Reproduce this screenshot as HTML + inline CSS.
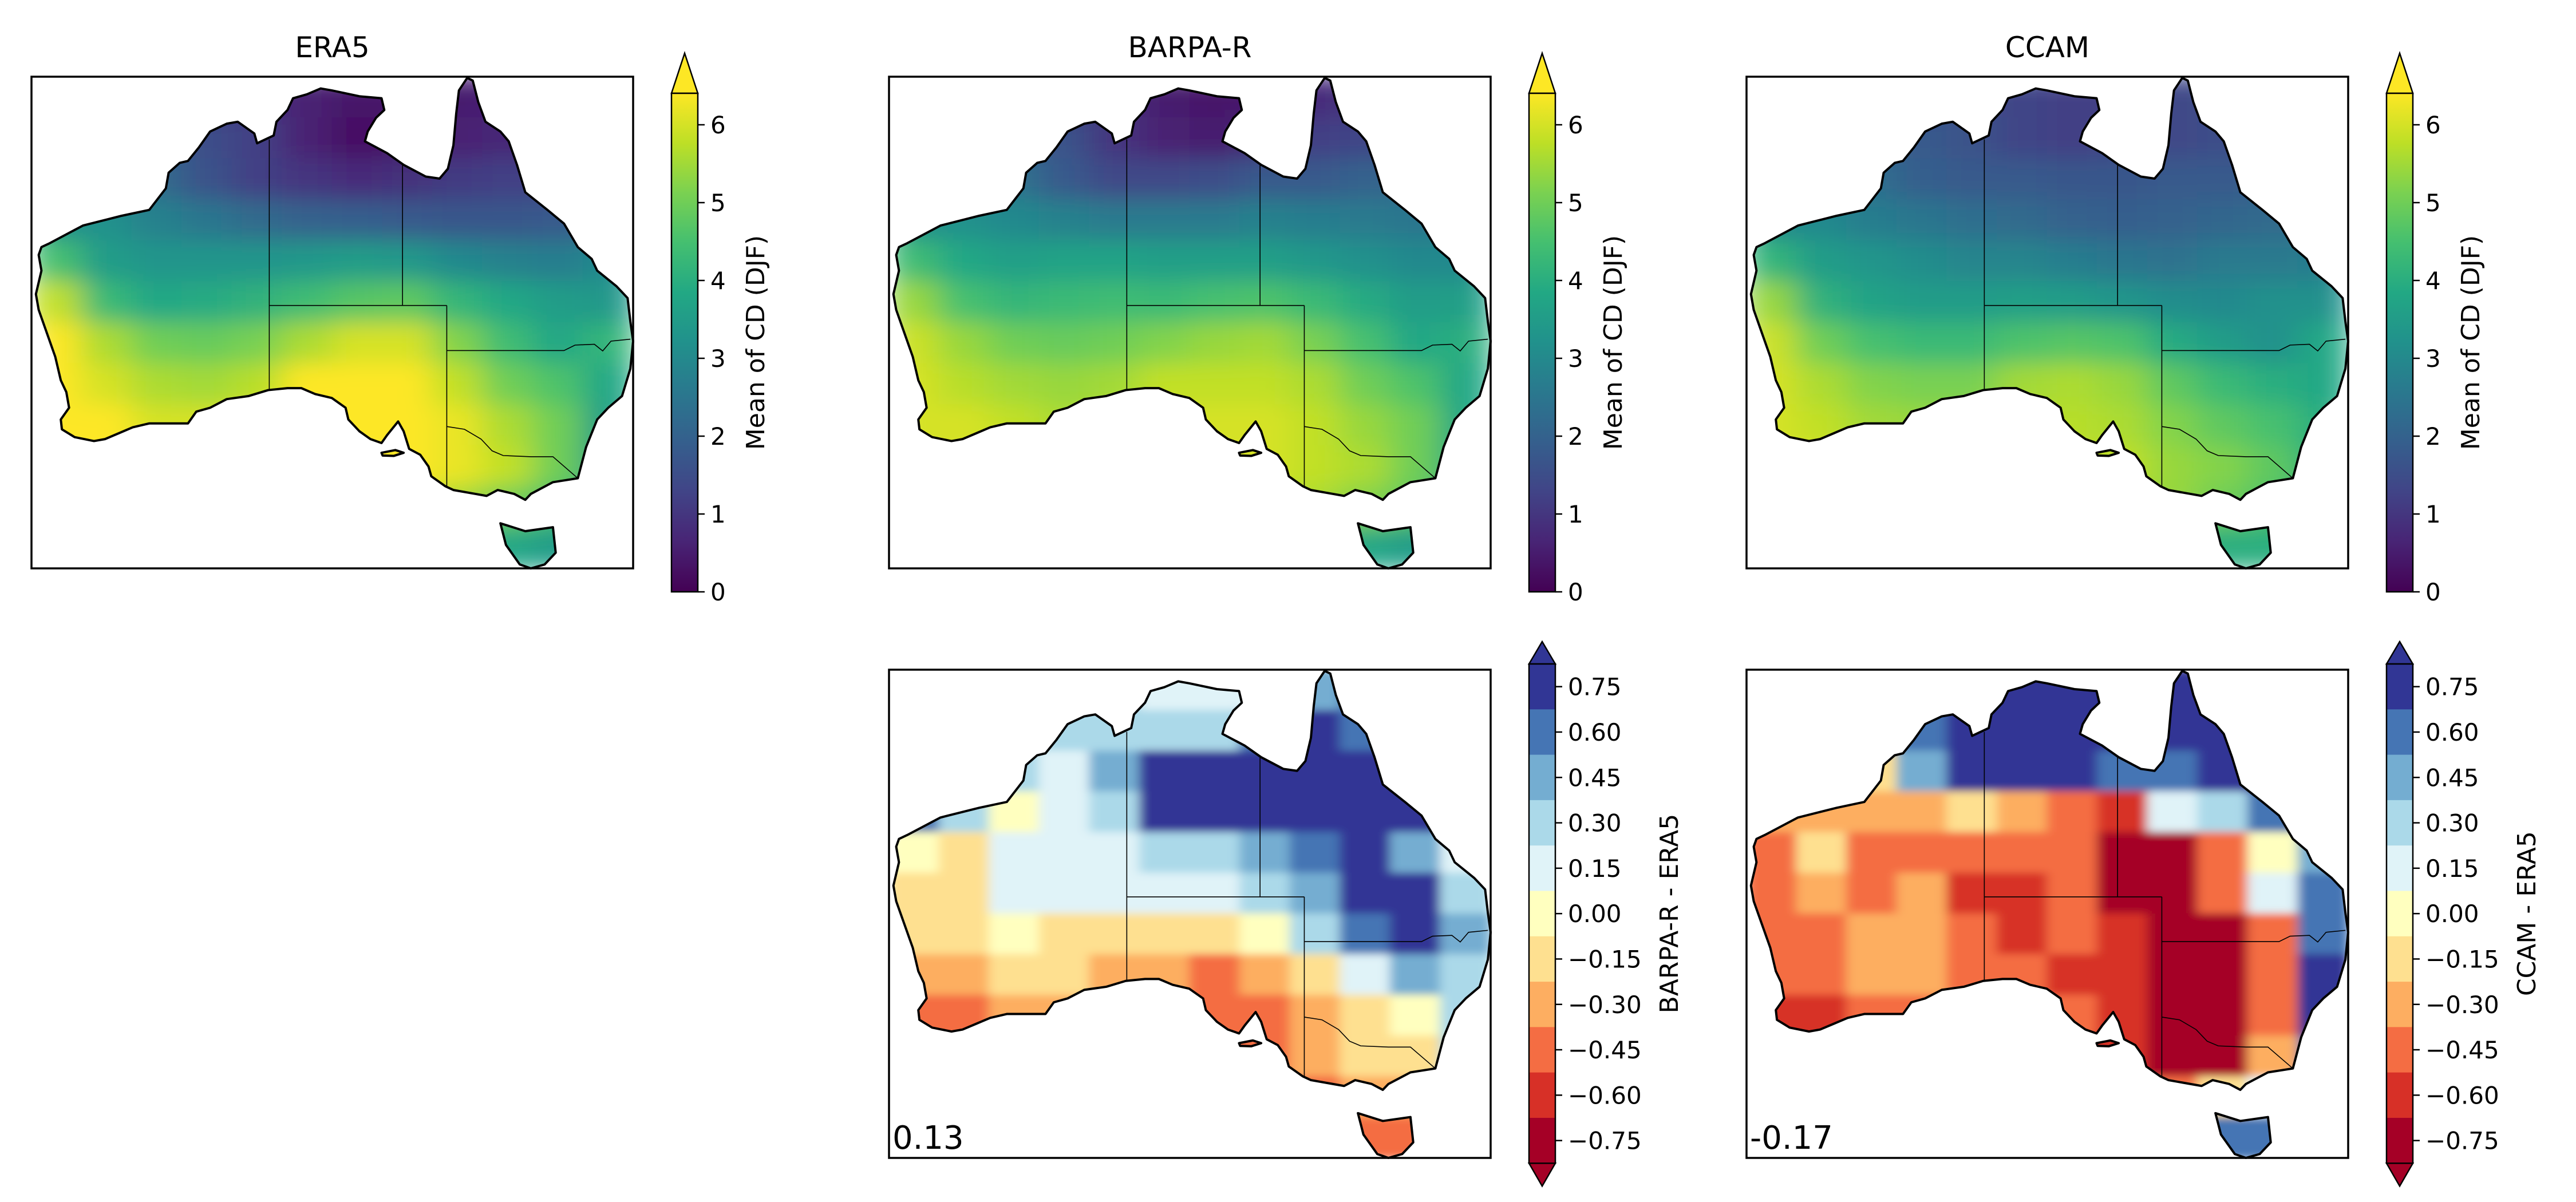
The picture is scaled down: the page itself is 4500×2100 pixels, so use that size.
<!DOCTYPE html>
<html><head><meta charset="utf-8">
<style>
html,body{margin:0;padding:0;background:#fff;}
svg{display:block;font-family:"DejaVu Sans","Liberation Sans",sans-serif;}
</style></head>
<body>
<svg id="fig" width="4500" height="2100" viewBox="0 0 4500 2100" xmlns="http://www.w3.org/2000/svg">
<defs>
<linearGradient id="viridis" x1="0" y1="1" x2="0" y2="0">
<stop offset="0" stop-color="#440154"/><stop offset="0.1" stop-color="#482475"/><stop offset="0.2" stop-color="#414487"/><stop offset="0.3" stop-color="#355f8d"/><stop offset="0.4" stop-color="#2a788e"/><stop offset="0.5" stop-color="#21918c"/><stop offset="0.6" stop-color="#22a884"/><stop offset="0.7" stop-color="#44bf70"/><stop offset="0.8" stop-color="#7ad151"/><stop offset="0.9" stop-color="#bddf26"/><stop offset="1" stop-color="#fde725"/>
</linearGradient>
<filter id="smooth" x="0" y="0" width="1" height="1"><feGaussianBlur stdDeviation="28"/></filter>
<filter id="soft" x="0" y="0" width="1" height="1"><feGaussianBlur stdDeviation="10"/></filter>
</defs>
</svg>
<script>
// ---- data grids (12 rows north->south, 12 cols west->east) ----
const era5Grid = [
[1,1,1,1,1,0.6,0.4,0.4,0.5,0.6,0.8,1],
[2,2,2,1.5,1.2,0.6,0.3,0.4,0.6,0.7,0.9,1.2],
[2.5,2.5,2.2,1.6,1.2,1.0,0.8,0.9,1.1,1.2,1.2,1.4],
[3.2,3.2,2.8,2.5,2.2,2.0,1.9,1.8,1.7,1.7,1.8,2.1],
[4.5,3.5,3.3,3.3,3.3,3.4,3.5,3.4,3.0,2.8,2.7,3.0],
[5.8,4.3,3.8,3.9,4.1,4.4,4.7,4.8,4.2,3.8,3.5,3.4],
[6.4,5.6,5.0,4.9,5.1,5.6,6.0,6.0,5.2,4.4,3.8,4.2],
[6.5,6.0,5.6,5.5,5.7,6.5,6.5,6.5,5.8,5.0,4.6,3.8],
[6.5,6.4,6.0,6.0,6.1,6.6,6.6,6.6,6.2,5.6,5.0,3.6],
[6.5,6.5,6.4,6.3,6.3,6.6,6.6,6.6,6.2,5.8,5.0,3.5],
[6.5,6.5,6.5,6.4,6.4,6.6,6.6,6.2,5.5,5.0,4.5,4.0],
[4,4,4,4,4,4,4,4,4,3.8,3.5,3.5]];
const barpaGrid = [
[1,1,1,1,1,0.5,0.4,0.5,0.8,1,1.2,1.3],
[2,2,2,1.6,1.0,0.6,0.5,0.8,1.2,1.3,1.4,1.5],
[2.6,2.6,2.4,1.8,1.4,1.4,1.5,1.8,1.8,2,2.2,2.2],
[3.2,3.2,3,2.8,2.6,2.6,2.6,2.8,2.7,2.6,2.5,2.6],
[4.4,3.8,3.6,3.7,3.7,3.6,3.6,3.6,3.4,3.2,3.0,3.0],
[5.4,4.5,4.2,4.3,4.4,4.3,4.5,4.6,4.3,3.9,3.5,3.6],
[5.9,5.4,5.0,4.9,5.0,5.2,5.4,5.5,5.1,4.5,3.8,4.0],
[6.0,5.7,5.5,5.4,5.5,5.8,5.8,5.8,5.6,5.0,4.6,3.8],
[6.0,6.0,5.8,5.6,5.7,6.0,6.0,6.0,5.8,5.4,5.0,3.8],
[6.0,6.0,6.0,5.8,5.8,6.0,6.0,6.0,5.8,5.6,5.0,3.8],
[6,6,6,6,6,6,6,5.8,5.6,5.2,4.8,4],
[4,4,4,4,4,4,4,4,4,3.8,3.5,3.5]];
const ccamGrid = [
[1.5,1.5,1.5,1.5,1.5,1.3,1.2,1.2,1.4,1.5,1.5,1.5],
[2,2,2,1.8,1.6,1.3,1.2,1.3,1.4,1.5,1.6,1.6],
[2.5,2.5,2.3,1.9,1.8,1.8,1.7,1.7,1.8,1.8,1.9,2],
[3,3,2.7,2.5,2.3,2.2,2.0,1.9,2.0,2.1,2.2,2.3],
[4.2,3.5,3.3,3.1,2.9,2.9,2.7,2.5,2.4,2.6,2.6,2.7],
[5.4,4.1,3.7,3.5,3.5,3.6,3.5,3.3,3.1,3.0,3.2,3.2],
[5.9,5.0,4.5,4.3,4.3,4.6,4.7,4.6,3.9,3.5,3.2,3.8],
[6.0,5.6,5.2,5.1,5.1,5.5,5.6,5.4,4.8,4.3,4.0,3.8],
[6.0,5.8,5.5,5.4,5.4,5.7,5.7,5.6,5.2,4.8,4.5,4.0],
[6.0,6.0,5.8,5.6,5.6,5.8,5.8,5.8,5.4,5.2,4.8,4.0],
[6,6,6,5.8,5.8,5.9,5.9,5.6,5.4,5.0,4.6,4.2],
[4,4,4,4,4,4,4,4,4,4,4,4]];
const barpaDiffGrid = [
[0,0,0,0,0.3,0.15,0.15,0.15,0.5,0.6,0.8,0.8],
[0,0,0,0.3,0.3,0.3,0.3,0.6,0.9,0.6,0.8,0.8],
[0.3,0.3,0.3,0.1,0.5,0.9,0.9,0.8,0.9,0.9,0.8,0.6],
[0.6,0.3,0.0,0.1,0.3,0.7,0.7,0.7,0.8,0.9,0.8,0.5],
[0,-0.1,0.1,0.15,0.2,0.3,0.3,0.4,0.6,0.7,0.5,0.2],
[-0.1,-0.1,0.1,0.2,0.15,0.2,0.15,0.3,0.5,0.7,0.8,0.3],
[-0.2,-0.1,0.0,-0.1,-0.1,-0.1,-0.15,0.0,0.3,0.6,0.8,0.5],
[-0.35,-0.25,-0.2,-0.2,-0.3,-0.35,-0.4,-0.3,-0.1,0.2,0.4,0.3],
[-0.5,-0.45,-0.35,-0.3,-0.3,-0.5,-0.5,-0.4,-0.3,-0.1,0.0,0.3],
[-0.55,-0.5,-0.4,-0.4,-0.35,-0.5,-0.5,-0.45,-0.3,-0.2,-0.1,0.3],
[-0.4,-0.4,-0.4,-0.4,-0.4,-0.4,-0.5,-0.55,-0.4,-0.3,-0.3,0.0],
[0,0,0,0,0,0,0,0,0,-0.4,-0.45,-0.4]];
const ccamDiffGrid = [
[0.8,0.8,0.8,0.8,0.8,0.9,0.9,0.9,0.9,0.9,0.9,0.9],
[0.8,0.8,0.8,0.6,0.9,0.9,0.9,0.9,0.9,0.9,0.9,0.9],
[-0.2,-0.2,-0.1,0.5,0.8,0.7,0.7,0.6,0.6,0.9,0.9,0.9],
[-0.3,-0.3,-0.3,-0.3,-0.2,-0.3,-0.5,-0.6,0.2,0.3,0.6,0.9],
[-0.4,-0.2,-0.4,-0.5,-0.5,-0.4,-0.5,-0.7,-0.8,-0.5,0.0,0.5],
[-0.4,-0.3,-0.4,-0.3,-0.6,-0.6,-0.5,-0.8,-0.8,-0.5,0.2,0.6],
[-0.5,-0.4,-0.3,-0.3,-0.4,-0.6,-0.5,-0.6,-0.8,-0.8,-0.4,0.6],
[-0.5,-0.4,-0.3,-0.3,-0.4,-0.5,-0.6,-0.6,-0.8,-0.8,-0.5,0.8],
[-0.6,-0.6,-0.4,-0.4,-0.4,-0.5,-0.5,-0.6,-0.7,-0.8,-0.4,0.8],
[-0.6,-0.6,-0.5,-0.4,-0.4,-0.5,-0.6,-0.6,-0.7,-0.8,-0.3,0.6],
[-0.5,-0.5,-0.5,-0.5,-0.5,-0.5,-0.6,-0.6,-0.5,-0.2,0.2,0.5],
[0.5,0.5,0.5,0.5,0.5,0.5,0.5,0.5,0.5,0.6,0.6,0.6]];
const meanTicks = [0,1,2,3,4,5,6];
const diffTicks = [0.75,0.60,0.45,0.30,0.15,0.00,-0.15,-0.30,-0.45,-0.60,-0.75];
const diffColors = ["#313695","#4575b4","#74add1","#abd9e9","#e0f3f8","#ffffbf","#fee090","#fdae61","#f46d43","#d73027","#a50026"];
const titles = ["ERA5","BARPA-R","CCAM"];
const corrLabels = ["0.13","-0.17"];

const NS="http://www.w3.org/2000/svg";
const svg=document.getElementById('fig');
function el(tag,attrs,parent){const e=document.createElementNS(NS,tag);for(const k in attrs)e.setAttribute(k,attrs[k]);(parent||svg).appendChild(e);return e;}

const vir=["#440154","#482475","#414487","#355f8d","#2a788e","#21918c","#22a884","#44bf70","#7ad151","#bddf26","#fde725"];
function hex(h){return [1,3,5].map(i=>parseInt(h.substr(i,2),16));}
function viridis(v){let t=Math.max(0,Math.min(1,v/6.4))*10;const i=Math.min(9,Math.floor(t)),f=t-i;const a=hex(vir[i]),b=hex(vir[i+1]);return 'rgb('+a.map((c,k)=>Math.round(c+(b[k]-c)*f)).join(',')+')';}
function diverg(v){let i=Math.floor((0.825-v)/0.15);i=Math.max(0,Math.min(10,i));return diffColors[i];}

const ZX0=57,ZY0=205,ZW=1088,ZH=1255;
const mainland=[[75,640],[90,630],[150,585],[220,560],[270,545],[300,490],[305,450],[325,425],[340,420],[360,385],[380,345],[410,325],[430,320],[460,350],[465,375],[495,355],[500,320],[520,290],[530,260],[555,250],[580,235],[600,240],[650,255],[690,260],[695,290],[680,310],[665,345],[660,370],[700,400],[730,430],[770,460],[795,465],[810,440],[820,380],[825,300],[830,240],[845,208],[855,215],[865,270],[878,320],[905,345],[920,370],[935,430],[950,500],[990,545],[1020,580],[1045,640],[1070,670],[1080,700],[1115,740],[1135,770],[1140,830],[1145,880],[1140,950],[1125,1020],[1100,1050],[1080,1080],[1060,1150],[1045,1230],[1000,1240],[960,1270],[950,1285],[930,1270],[900,1260],[880,1275],[860,1270],[820,1260],[805,1250],[780,1225],[775,1200],[760,1170],[740,1155],[730,1110],[720,1085],[700,1120],[690,1140],[670,1130],[650,1110],[630,1080],[625,1050],[600,1025],[570,1015],[545,1000],[520,1000],[485,1005],[450,1020],[410,1028],[380,1050],[355,1060],[340,1090],[300,1090],[270,1090],[240,1100],[215,1115],[190,1130],[170,1135],[135,1125],[112,1105],[110,1080],[125,1050],[120,1010],[110,980],[100,920],[85,860],[70,800],[65,760],[75,700],[70,660]];
const tas=[[905,1345],[950,1365],[1000,1355],[1005,1420],[985,1450],[960,1460],[940,1450],[915,1400]];
const kangaroo=[[690,1165],[715,1158],[730,1165],[712,1173],[692,1172]];
function pathOf(p){return 'M'+p.map(q=>q.join(',')).join('L')+'Z';}
const landPath=pathOf(mainland)+pathOf(tas)+pathOf(kangaroo);
const borders=["M487,365L487,1005","M487,789L808,789","M728,430L728,789","M808,789L808,1250","M808,904L1020,904L1040,890L1075,888L1090,905L1105,880L1140,875","M808,1098L840,1105L870,1130L890,1160L910,1172L960,1175L1000,1175L1045,1230"];

const panels=[
 {x:55,y:134,h:859,grid:era5Grid,type:'mean',cb:1173,title:0,name:'era5'},
 {x:1553,y:134,h:859,grid:barpaGrid,type:'mean',cb:2671,title:1,name:'barpa-r'},
 {x:3051,y:134,h:859,grid:ccamGrid,type:'mean',cb:4169,title:2,name:'ccam'},
 {x:1553,y:1170,h:853,grid:barpaDiffGrid,type:'diff',cb:2671,label:'BARPA-R - ERA5',corr:0,name:'barpa-r-minus-era5'},
 {x:3051,y:1170,h:853,grid:ccamDiffGrid,type:'diff',cb:4169,label:'CCAM - ERA5',corr:1,name:'ccam-minus-era5'}];
const W=1051;

panels.forEach((p,pi)=>{
  const g=el('g',{});
  
  
  const clip=el('clipPath',{id:'clip'+pi},svg.querySelector('defs'));
  el('path',{d:landPath},clip);
  const t=el('g',{transform:`translate(${p.x},${p.y}) scale(${W/ZW},${p.h/ZH}) translate(${-ZX0},${-ZY0})`},g);
  const cg=el('g',{'clip-path':`url(#clip${pi})`},t);
  const cells=el('g',{filter:p.type==='mean'?'url(#smooth)':'url(#soft)'},cg);
  
  
  const nr=p.grid.length,nc=p.grid[0].length,cw=ZW/nc,ch=ZH/nr;
  p.grid.forEach((row,r)=>row.forEach((v,c)=>{
    const rc=el('rect',{x:ZX0+c*cw-1,y:ZY0+r*ch-1,width:cw+2,height:ch+2,fill:p.type==='mean'?viridis(v):diverg(v)},cells);
    
    
  }));
  const bd=el('path',{d:borders.join(''),fill:'none',stroke:'#000','stroke-width':1.6,'vector-effect':'non-scaling-stroke'},t);
  
  
  const co=el('path',{d:landPath,fill:'none',stroke:'#000','stroke-width':4,'stroke-linejoin':'round','vector-effect':'non-scaling-stroke'},t);
  
  
  const fr=el('rect',{x:p.x,y:p.y,width:W,height:p.h,fill:'none',stroke:'#000','stroke-width':3.5},g);
  
  
  if(p.title!==undefined){
    const tt=el('text',{x:p.x+W/2,y:100,'font-size':50,'text-anchor':'middle'},g);tt.textContent=titles[p.title];
    
    
  }
  if(p.corr!==undefined){
    const ct=el('text',{x:p.x+6,y:p.y+p.h-16,'font-size':56},g);ct.textContent=corrLabels[p.corr];
    
    
  }
  const cb=el('g',{},g);
  
  
  const cx=p.cb,cw2=46;
  if(p.type==='mean'){
    const y0=1034,pu=136,top=163;
    el('path',{d:`M${cx},${top}L${cx+cw2/2},93L${cx+cw2},${top}Z`,fill:'#fde725',stroke:'#000','stroke-width':2.5},cb);
    el('rect',{x:cx,y:top,width:cw2,height:y0-top,fill:'url(#viridis)',stroke:'#000','stroke-width':2.5},cb);
    meanTicks.forEach(v=>{const y=y0-v*pu;
      el('line',{x1:cx+cw2,x2:cx+cw2+12,y1:y,y2:y,stroke:'#000','stroke-width':2.5},cb);
      const tx=el('text',{x:cx+cw2+22,y:y+15,'font-size':42},cb);tx.textContent=String(v);
      
      });
    const lb=el('text',{transform:`translate(${cx+162},${(top+y0)/2}) rotate(-90)`,'text-anchor':'middle','font-size':44},cb);lb.textContent='Mean of CD (DJF)';
    
    
  } else {
    const top=1160,bin=79.3,n=diffColors.length,bot=top+n*bin;
    el('path',{d:`M${cx},${top}L${cx+cw2/2},1121L${cx+cw2},${top}Z`,fill:diffColors[0],stroke:'#000','stroke-width':2.5},cb);
    el('path',{d:`M${cx},${bot}L${cx+cw2/2},${bot+40}L${cx+cw2},${bot}Z`,fill:diffColors[n-1],stroke:'#000','stroke-width':2.5},cb);
    diffColors.forEach((c,i)=>{el('rect',{x:cx,y:top+i*bin,width:cw2,height:bin+0.5,fill:c},cb);});
    el('rect',{x:cx,y:top,width:cw2,height:n*bin,fill:'none',stroke:'#000','stroke-width':2.5},cb);
    diffTicks.forEach((v,i)=>{const y=top+(i+0.5)*bin;
      el('line',{x1:cx+cw2,x2:cx+cw2+12,y1:y,y2:y,stroke:'#000','stroke-width':2.5},cb);
      const tx=el('text',{x:cx+cw2+22,y:y+15,'font-size':42},cb);tx.textContent=(v<0?'\u2212':'')+Math.abs(v).toFixed(2);
      
      });
    const lb=el('text',{transform:`translate(${cx+260},${top+n*bin/2}) rotate(-90)`,'text-anchor':'middle','font-size':44},cb);lb.textContent=p.label;
    
    
  }
});
</script>
</body></html>
